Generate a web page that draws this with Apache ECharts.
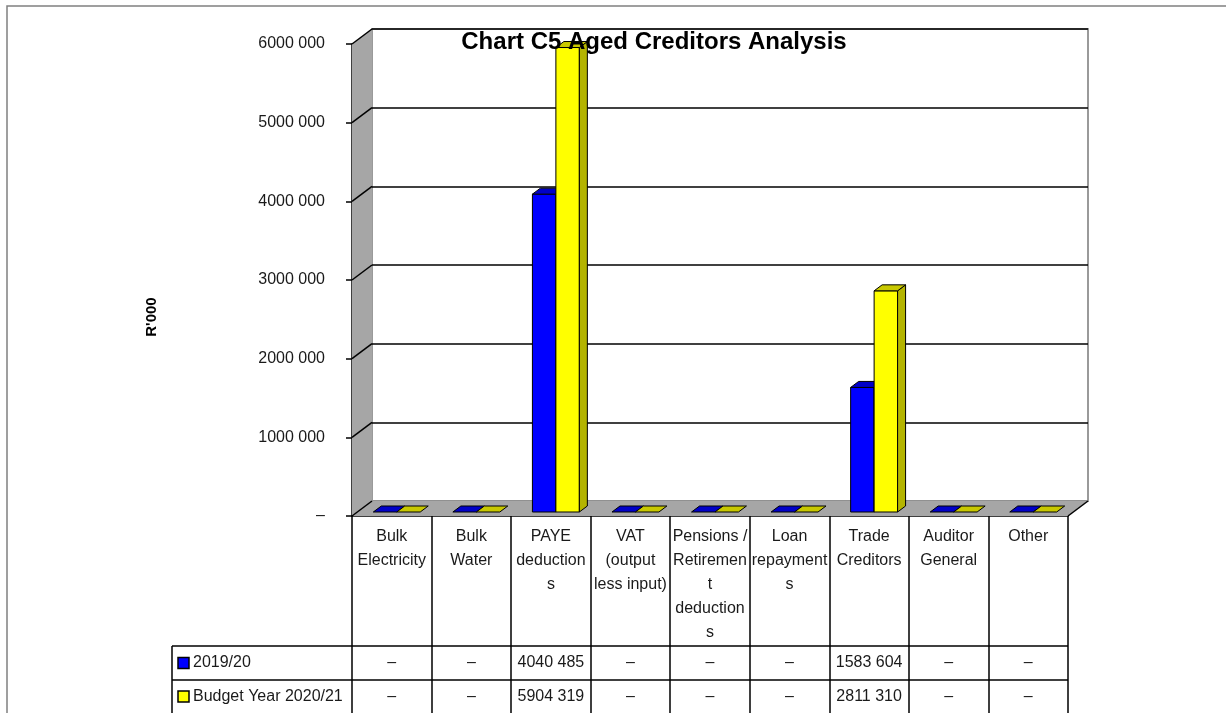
<!DOCTYPE html>
<html>
<head>
<meta charset="utf-8">
<title>Chart C5 Aged Creditors Analysis</title>
<script src="https://cdn.jsdelivr.net/npm/echarts@6/dist/echarts.min.js"></script>
<style>
  html, body { margin: 0; padding: 0; background: #fff; }
  #container { width: 1226px; height: 713px; }
</style>
</head>
<body>
<div id="container"></div>
<script type="text/javascript">
var categories = ['Bulk\nElectricity', 'Bulk\nWater', 'PAYE\ndeduction\ns', 'VAT\n(output\nless input)',
  'Pensions /\nRetiremen\nt\ndeduction\ns', 'Loan\nrepayment\ns', 'Trade\nCreditors', 'Auditor\nGeneral', 'Other'];
var seriesNames = ['2019/20', 'Budget Year 2020/21'];
var values2019 = [0, 0, 4040485, 0, 0, 0, 1583604, 0, 0];
var valuesBudget = [0, 0, 5904319, 0, 0, 0, 2811310, 0, 0];
var yMax = 6000000, yStep = 1000000;

var FONT = "'Liberation Sans', Arial, sans-serif";
var TXT = '#1a1a1a';
// front plane of the 3d box
var F_LEFT = 352, F_RIGHT = 1068, F_TOP = 44, F_BOT = 516;
// depth of the box walls
var WALL_DX = 20, WALL_DY = -15;
// bars sit a bit behind the front plane
var BAR_DX = 5, BAR_DY = -4, DEP_X = 8, DEP_Y = -6;
var COLORS = [
  { front: '#0000ff', top: '#0000c8', side: '#000090' },
  { front: '#ffff00', top: '#c8c800', side: '#b4b400' }
];

function fmt(v) {
  if (!v) return '–';
  var k = Math.floor(v / 1000), r = String(v % 1000);
  while (r.length < 3) r = '0' + r;
  return k + ' ' + r;
}

function renderBar(params, api) {
  var idx = api.value(0), v = api.value(1);
  var base = api.coord([idx, 0]);
  var top = api.coord([idx, v]);
  var band = api.size([1, 0])[0];
  var bw = band * 0.295;
  var x0 = base[0] + BAR_DX + (params.seriesIndex === 0 ? -bw : 0);
  var yb = base[1] + BAR_DY, yt = top[1] + BAR_DY;
  var c = COLORS[params.seriesIndex];
  var kids = [];
  if (yb - yt > 0.5) {
    kids.push({ type: 'rect', shape: { x: x0, y: yt, width: bw, height: yb - yt },
      style: { fill: c.front, stroke: '#000', lineWidth: 1 } });
    kids.push({ type: 'polygon', shape: { points: [[x0 + bw, yt], [x0 + bw + DEP_X, yt + DEP_Y], [x0 + bw + DEP_X, yb + DEP_Y], [x0 + bw, yb]] },
      style: { fill: c.side, stroke: '#000', lineWidth: 1 } });
  }
  kids.push({ type: 'polygon', shape: { points: [[x0, yt], [x0 + DEP_X, yt + DEP_Y], [x0 + bw + DEP_X, yt + DEP_Y], [x0 + bw, yt]] },
    style: { fill: c.top, stroke: '#000', lineWidth: 1 } });
  return { type: 'group', children: kids };
}

var myChart = echarts.init(document.getElementById('container'), null, { renderer: 'canvas' });
var W = 1226, H = 713;

var rowAxis = function (vals, off) {
  return {
    type: 'category', gridIndex: 0, data: categories, position: 'bottom', offset: off,
    axisLine: { show: false }, axisTick: { show: false }, splitLine: { show: false },
    axisLabel: {
      interval: 0, margin: 17, verticalAlign: 'middle', fontFamily: FONT, fontSize: 16, color: TXT,
      formatter: function (val, i) { return fmt(vals[i]); }
    }
  };
};

var option = {
  animation: false,
  backgroundColor: '#fff',
  title: {
    text: 'Chart C5 Aged Creditors Analysis',
    left: 649, top: 25, textAlign: 'center', z: 20,
    textStyle: { fontFamily: FONT, fontSize: 24, fontWeight: 'bold', color: '#000' }
  },
  grid: [
    { left: F_LEFT, right: W - F_RIGHT, top: F_TOP, bottom: H - F_BOT, containLabel: false },
    { left: F_LEFT + WALL_DX, right: W - F_RIGHT - WALL_DX, top: F_TOP + WALL_DY, bottom: H - F_BOT - WALL_DY,
      show: true, backgroundColor: '#fff', borderColor: '#9a9a9a', borderWidth: 2, z: 0 }
  ],
  xAxis: [
    {
      type: 'category', gridIndex: 0, data: categories, position: 'bottom',
      axisLine: { show: true, lineStyle: { color: '#000', width: 1.5 } },
      axisTick: { show: true, interval: 0, length: H - F_BOT, lineStyle: { color: '#000', width: 1.5 } },
      axisLabel: { interval: 0, margin: 9, lineHeight: 24, fontFamily: FONT, fontSize: 16, color: TXT, verticalAlign: 'top' }
    },
    rowAxis(values2019, 130),
    rowAxis(valuesBudget, 164),
    {
      type: 'category', gridIndex: 1, data: categories, show: false
    }
  ],
  yAxis: [
    {
      type: 'value', gridIndex: 0, min: 0, max: yMax, interval: yStep,
      axisLine: { show: true, lineStyle: { color: '#000', width: 1.5 } },
      axisTick: { show: true, length: 6, lineStyle: { color: '#000', width: 1.5 } },
      splitLine: { show: false },
      axisLabel: { margin: 27, fontFamily: FONT, fontSize: 16, color: TXT, formatter: fmt }
    },
    {
      type: 'value', gridIndex: 1, min: 0, max: yMax, interval: yStep,
      axisLine: { show: false }, axisTick: { show: false }, axisLabel: { show: false },
      splitLine: { show: true, lineStyle: { color: ['#8c8c8c', '#000', '#000', '#000', '#000', '#000', '#000'], width: 1.6 } }
    }
  ],
  series: [
    {
      name: seriesNames[0], type: 'custom', xAxisIndex: 0, yAxisIndex: 0, z: 5,
      renderItem: renderBar,
      data: values2019.map(function (v, i) { return [i, v]; })
    },
    {
      name: seriesNames[1], type: 'custom', xAxisIndex: 0, yAxisIndex: 0, z: 6,
      renderItem: renderBar,
      data: valuesBudget.map(function (v, i) { return [i, v]; })
    }
  ]
};

myChart.setOption(option);

// walls, floor, legend cells, axis title
var g = [];
var yTop = myChart.convertToPixel({ yAxisIndex: 0 }, yMax);
var yZero = myChart.convertToPixel({ yAxisIndex: 0 }, 0);
g.push({ type: 'rect', z: -10, shape: { x: 7, y: 6, width: 1240, height: 730 },
  style: { fill: 'none', stroke: '#808080', lineWidth: 1.5 } });
// side wall
g.push({ type: 'polygon', z: 1, shape: { points: [[F_LEFT, yTop], [F_LEFT + WALL_DX, yTop + WALL_DY], [F_LEFT + WALL_DX, yZero + WALL_DY], [F_LEFT, yZero]] },
  style: { fill: '#a6a6a6', stroke: 'none' } });
// floor
g.push({ type: 'polygon', z: 1, shape: { points: [[F_LEFT, yZero], [F_LEFT + WALL_DX, yZero + WALL_DY], [F_RIGHT + WALL_DX, yZero + WALL_DY], [F_RIGHT, yZero]] },
  style: { fill: '#a6a6a6', stroke: 'none' } });
g.push({ type: 'line', z: 2, shape: { x1: F_RIGHT, y1: yZero, x2: F_RIGHT + WALL_DX, y2: yZero + WALL_DY },
  style: { stroke: '#000', lineWidth: 1.5 } });
for (var v = 0; v <= yMax; v += yStep) {
  var yy = myChart.convertToPixel({ yAxisIndex: 0 }, v);
  g.push({ type: 'line', z: 2, shape: { x1: F_LEFT, y1: yy, x2: F_LEFT + WALL_DX, y2: yy + WALL_DY },
    style: { stroke: '#000', lineWidth: 1.5 } });
}
g.push({ type: 'text', z: 3, x: 152, y: 317, rotation: Math.PI / 2,
  style: { text: "R'000", font: 'bold 15px ' + FONT, fill: '#000', align: 'center', verticalAlign: 'middle' } });
// table rows in the legend area
var LEG_L = 172, R1 = 646, R2 = 680;
[R1, R2].forEach(function (y) {
  g.push({ type: 'line', z: 3, shape: { x1: LEG_L, y1: y, x2: F_RIGHT, y2: y }, style: { stroke: '#000', lineWidth: 1.5 } });
});
g.push({ type: 'line', z: 3, shape: { x1: LEG_L, y1: R1, x2: LEG_L, y2: H }, style: { stroke: '#000', lineWidth: 1.5 } });
seriesNames.forEach(function (name, i) {
  var cy = i === 0 ? (R1 + R2) / 2 : (R2 + H) / 2;
  g.push({ type: 'rect', z: 3, shape: { x: 178, y: cy - 5.5, width: 11, height: 11 },
    style: { fill: COLORS[i].front, stroke: '#000', lineWidth: 1.5 } });
  g.push({ type: 'text', z: 3, x: 193, y: cy,
    style: { text: name, font: '16px ' + FONT, fill: TXT, verticalAlign: 'middle' } });
});
myChart.setOption({ graphic: g });
</script>
</body>
</html>
